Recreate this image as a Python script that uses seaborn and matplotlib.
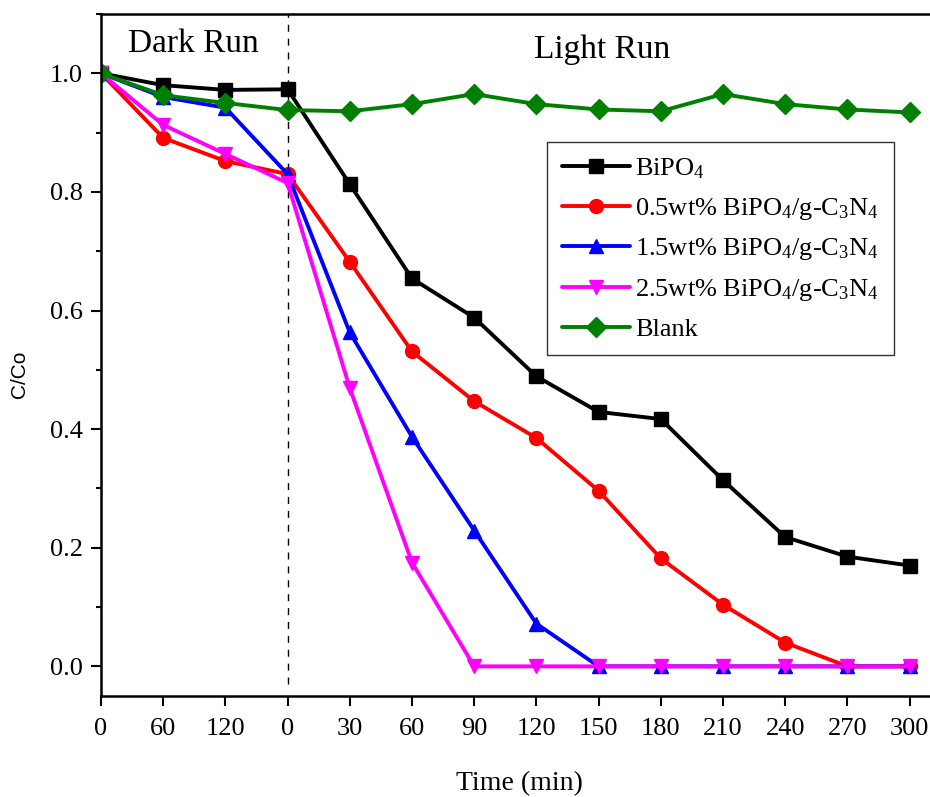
import matplotlib
matplotlib.use("Agg")
import matplotlib.pyplot as plt
import seaborn as sns
import numpy as np
from matplotlib.ticker import MultipleLocator, FormatStrFormatter

# dados
tempo_rotulos = ["0", "60", "120", "0", "30", "60", "90", "120", "150",
                 "180", "210", "240", "270", "300"]
bipo4 = [1.0, 0.98, 0.972, 0.973, 0.813, 0.654, 0.588, 0.489, 0.429,
         0.417, 0.314, 0.218, 0.185, 0.170]
bipo4_05 = [1.0, 0.891, 0.852, 0.830, 0.682, 0.531, 0.447, 0.385, 0.296,
            0.182, 0.104, 0.040, 0.0, 0.0]
bipo4_15 = [1.0, 0.960, 0.942, 0.830, 0.563, 0.387, 0.229, 0.072, 0.0,
            0.0, 0.0, 0.0, 0.0, 0.0]
bipo4_25 = [1.0, 0.913, 0.864, 0.815, 0.469, 0.175, 0.0, 0.0, 0.0,
            0.0, 0.0, 0.0, 0.0, 0.0]
branco = [1.0, 0.963, 0.950, 0.938, 0.936, 0.948, 0.965, 0.948, 0.939,
          0.936, 0.965, 0.948, 0.939, 0.934]

series = [
    (bipo4, r"BiPO$_4$", "black", "s"),
    (bipo4_05, r"0.5wt% BiPO$_4$/g-C$_3$N$_4$", "red", "o"),
    (bipo4_15, r"1.5wt% BiPO$_4$/g-C$_3$N$_4$", "blue", "^"),
    (bipo4_25, r"2.5wt% BiPO$_4$/g-C$_3$N$_4$", "magenta", "v"),
    (branco, "Blank", "green", "D"),
]

sns.set_style("ticks")
plt.rcParams.update({
    "font.family": ["Liberation Serif", "DejaVu Serif"],
    "mathtext.default": "regular",
    "text.color": "black",
    "axes.labelcolor": "black",
    "axes.edgecolor": "black",
    "xtick.color": "black",
    "ytick.color": "black",
})

fig = plt.figure(figsize=(9.3, 7.97), dpi=100)
ax = fig.add_axes([101 / 930, 1 - 696 / 797, 1 - 101 / 930, (696 - 14) / 797])

x = np.arange(len(tempo_rotulos))
for valores, rotulo, cor, marc in series:
    sns.lineplot(x=x, y=valores, ax=ax, color=cor, marker=marc, markersize=10,
                 markeredgecolor=cor, markeredgewidth=1, linewidth=2.8,
                 label=rotulo)

ax.plot([3, 3], [-0.03, 1.1], color="black", lw=1, ls=(0, (5, 5)), zorder=1)

ax.set_xlim(0, (930 - 101) / 62.2)
ax.set_ylim(-0.05, 1.1)
ax.set_xticks(x)
ax.set_xticklabels(tempo_rotulos)
ax.yaxis.set_major_locator(MultipleLocator(0.2))
ax.yaxis.set_minor_locator(MultipleLocator(0.1))
ax.yaxis.set_major_formatter(FormatStrFormatter("%.1f"))
ax.tick_params(which="major", direction="out", length=7, width=1.5,
               labelsize=19)
ax.tick_params(axis="x", pad=9)
ax.tick_params(axis="y", pad=6)
ax.tick_params(which="minor", direction="out", length=3.5, width=1.5)
for lado in ["left", "bottom", "top"]:
    ax.spines[lado].set_linewidth(1.8)
ax.spines["right"].set_visible(False)

ax.set_xlabel("Time (min)", fontsize=20)
ax.xaxis.set_label_coords(0.505, -0.128)
ax.xaxis.label.set_va("center")
ax.set_ylabel("C/Co", fontsize=15, family=["Liberation Sans", "DejaVu Sans"])
ax.yaxis.set_label_coords(-0.098, 0.472)
ax.yaxis.label.set_va("center")

ax.text(1.48, 1.05, "Dark Run", fontsize=24, ha="center", va="center")
ax.text(8.05, 1.04, "Light Run", fontsize=24, ha="center", va="center")

leg = ax.legend(loc="upper left", bbox_to_anchor=(0.538, 0.812), fontsize=19,
                frameon=True, fancybox=False, framealpha=1, edgecolor="#333333",
                handlelength=2.6, handletextpad=0.2, labelspacing=0.55,
                borderpad=0.55, borderaxespad=0)
leg.get_frame().set_linewidth(1.0)

fig.savefig("out.png", dpi=100)
